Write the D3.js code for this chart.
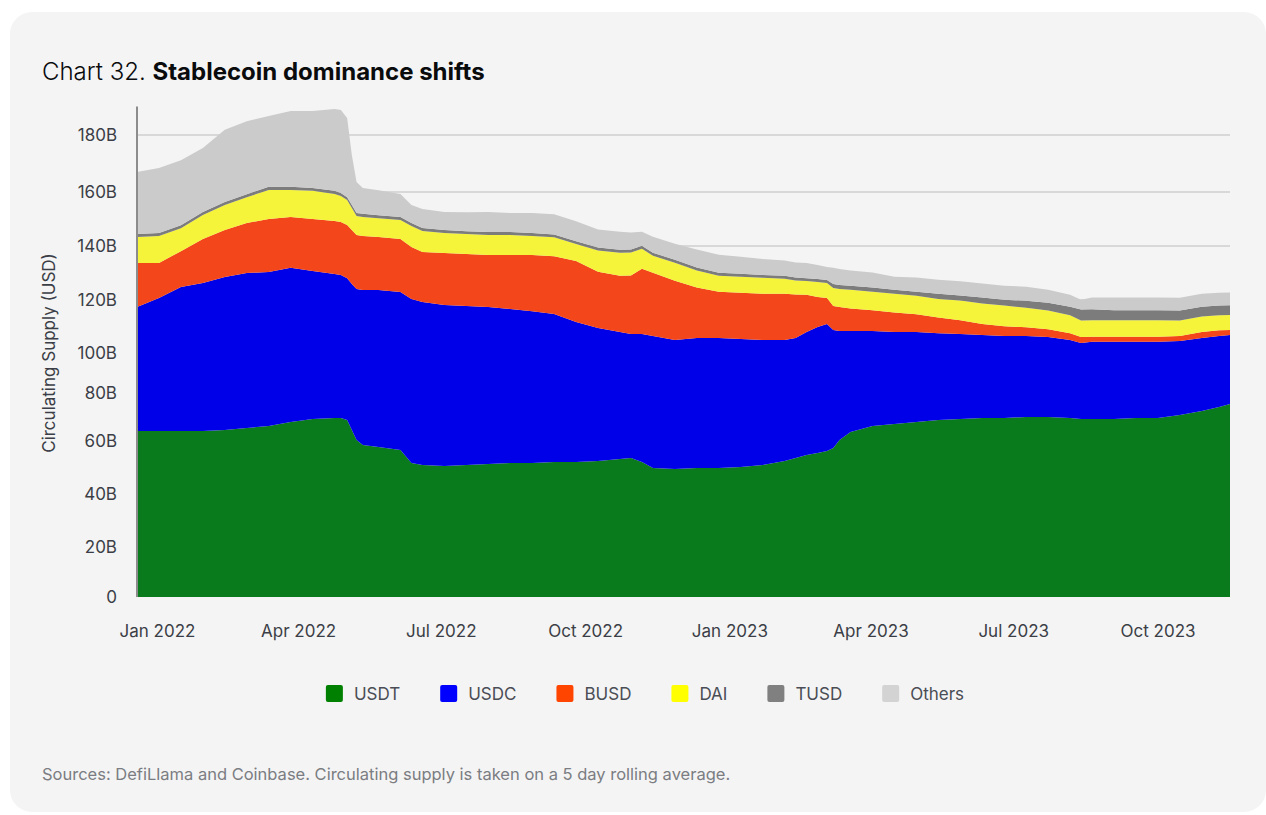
<!DOCTYPE html>
<html>
<head>
<meta charset="utf-8">
<script src="https://cdn.jsdelivr.net/npm/d3@7"></script>
<style>
  html, body { margin: 0; padding: 0; background: #ffffff; }
  svg { display: block; font-family: Inter, "Noto Sans", sans-serif; }
</style>
</head>
<body>
<script>
// ---------------- data ----------------
const dates = [
  "2022-01-01","2022-01-15","2022-01-29","2022-02-12","2022-02-26","2022-03-12","2022-03-26",
  "2022-04-09","2022-04-23","2022-05-07","2022-05-11","2022-05-15","2022-05-18","2022-05-21",
  "2022-05-25","2022-06-04","2022-06-18","2022-06-25","2022-07-02","2022-07-16","2022-07-30",
  "2022-08-13","2022-08-27","2022-09-10","2022-09-24","2022-10-08","2022-10-22","2022-11-05",
  "2022-11-12","2022-11-19","2022-11-26","2022-12-10","2022-12-24","2023-01-07","2023-01-21",
  "2023-02-04","2023-02-18","2023-02-25","2023-03-04","2023-03-11","2023-03-17","2023-03-21",
  "2023-03-25","2023-04-01","2023-04-15","2023-04-29","2023-05-13","2023-05-27","2023-06-10",
  "2023-06-24","2023-07-08","2023-07-22","2023-08-05","2023-08-19","2023-08-26","2023-09-02",
  "2023-09-16","2023-09-30","2023-10-14","2023-10-28","2023-11-11","2023-11-22","2023-11-29"
];
const usdt = [
  64.2,64.2,64.2,64.2,64.6,65.4,66.3,67.9,69.2,69.6,69.6,68.8,64.6,60.4,
  58.5,57.7,56.6,51.7,50.9,50.6,50.9,51.3,51.7,51.7,52.1,52.1,52.5,53.2,
  53.6,52.1,49.8,49.4,49.8,49.8,50.2,50.9,52.5,53.6,54.7,55.5,56.2,57.4,
  60.4,63.8,66.3,67.1,67.9,68.8,69.2,69.6,69.6,70.0,70.0,69.6,69.2,69.2,
  69.2,69.6,69.6,70.8,72.5,74.2,75.4
];
const usdc = [
  53.2,56.5,60.6,62.1,63.9,64.6,64.1,64.0,61.5,60.0,59.7,59.3,61.3,63.7,
  65.2,66.0,66.4,68.7,68.3,67.5,66.8,66.1,64.9,64.1,62.6,59.6,56.9,54.7,
  53.6,55.1,56.6,55.5,55.9,55.9,55.1,54.0,52.4,52.1,53.2,54.3,54.7,51.3,
  47.9,44.5,42.0,40.8,40.0,38.7,38.0,37.2,36.8,36.4,36.0,35.3,34.6,35.0,
  35.0,34.6,34.6,33.7,33.2,32.2,31.4
];
const busd = [
  16.3,13.0,13.3,16.3,17.4,18.5,19.6,18.8,19.3,19.7,19.6,19.7,20.0,20.0,
  20.0,19.6,19.6,19.2,18.6,19.3,19.3,19.3,20.1,20.9,21.5,22.7,21.1,21.1,
  21.9,24.4,23.7,22.2,18.9,17.4,17.4,17.4,17.4,16.3,14.0,11.3,9.8,9.0,
  9.1,8.5,7.8,7.4,6.7,5.9,5.2,4.1,3.7,3.3,3.0,2.6,2.2,1.9,
  1.9,1.9,1.9,1.9,2.2,2.2,1.9
];
const dai = [
  9.6,10.0,8.5,8.9,9.3,9.6,10.7,10.0,10.4,10.0,9.6,9.2,8.2,7.0,
  7.0,7.0,7.0,7.8,7.8,7.4,7.4,7.4,7.4,7.0,7.0,6.3,7.8,8.5,
  8.5,7.4,6.3,6.7,6.3,5.9,5.9,5.9,5.6,5.2,5.1,5.6,5.6,6.7,
  6.7,7.0,7.0,7.0,7.0,7.0,7.4,7.8,7.8,7.4,7.0,6.7,6.3,6.3,
  6.3,6.3,6.3,5.9,5.9,5.6,5.6
];
const tusd = [
  1.1,1.1,1.1,1.1,1.1,1.1,1.1,1.1,1.0,1.1,1.1,1.1,1.1,1.1,
  1.2,1.1,1.1,1.1,1.1,1.1,1.1,1.1,1.1,1.1,1.1,1.1,1.1,1.1,
  1.1,1.1,1.1,1.1,1.1,1.1,1.1,1.1,1.1,1.1,1.1,1.1,1.1,1.5,
  1.5,1.5,1.5,1.5,1.5,1.9,1.9,2.2,2.2,2.6,3.0,3.3,4.1,4.1,
  3.7,3.7,3.7,3.7,3.7,3.7,3.7
];
const others = [
  22.6,23.6,23.4,22.8,25.5,25.6,24.9,26.6,27.0,28.7,29.2,27.9,17.8,11.3,
  9.5,9.2,8.6,6.7,7.0,6.7,7.0,7.4,7.0,7.4,7.5,7.4,6.7,6.7,
  6.3,5.2,5.9,5.9,6.7,6.7,6.3,5.9,5.6,5.6,5.6,5.2,4.8,6.0,
  5.9,5.6,5.6,4.8,5.2,5.2,5.2,5.2,5.2,5.2,4.8,4.4,3.7,4.4,
  4.8,4.8,4.8,4.8,4.8,4.8,4.8
];
const seriesNames = ["USDT","USDC","BUSD","DAI","TUSD","Others"];
const areaColors   = ["#0a7b1d","#0000e8","#f4461b","#f5f43b","#7c7c7c","#cbcbcb"];
const legendColors = ["#008000","#0000ff","#ff4500","#ffff00","#808080","#d3d3d3"];
const yTicks = [0,20,40,60,80,100,120,140,160,180];
const yTickLabels = ["0","20B","40B","60B","80B","100B","120B","140B","160B","180B"];
const xTicks = ["2022-01-01","2022-04-01","2022-07-01","2022-10-01","2023-01-01","2023-04-01","2023-07-01","2023-10-01"];
const xTickLabels = ["Jan 2022","Apr 2022","Jul 2022","Oct 2022","Jan 2023","Apr 2023","Jul 2023","Oct 2023"];

// ---------------- layout ----------------
const W = 1266, H = 815;
const plot = { left: 137, right: 1230 };
const parse = d3.utcParse("%Y-%m-%d");

const rows = dates.map((d, i) => ({
  date: parse(d),
  USDT: usdt[i], USDC: usdc[i], BUSD: busd[i], DAI: dai[i], TUSD: tusd[i], Others: others[i]
}));

const svg = d3.select("body").append("svg").attr("width", W).attr("height", H);

// card background
svg.append("rect").attr("x", 10).attr("y", 12).attr("width", 1256).attr("height", 800)
  .attr("rx", 22).attr("fill", "#f4f4f4");

// title
const title = svg.append("text").attr("x", 42).attr("y", 80)
  .attr("font-size", 24).attr("fill", "#0a0b0d");
title.append("tspan").attr("font-weight", 300).text("Chart 32. ");
title.append("tspan").attr("font-weight", 700).text("Stablecoin dominance shifts");

// scales
const x = d3.scaleUtc()
  .domain([parse("2022-01-01"), parse("2023-11-29")])
  .range([plot.left, plot.right]);

// label positions of the reference axis are not evenly spaced; piecewise linear scale
const y = d3.scaleLinear()
  .domain([0, 20, 40, 60, 80, 100, 120, 140, 160, 180, 190])
  .range([597, 547, 494, 441, 393, 353, 300, 246, 192, 135, 106.5]);

// gridlines
svg.append("g").selectAll("line").data(yTicks.filter(v => v > 0)).join("line")
  .attr("x1", plot.left).attr("x2", plot.right)
  .attr("y1", d => y(d)).attr("y2", d => y(d))
  .attr("stroke", "#d8d8d8").attr("stroke-width", 2);

// stacked areas
const stack = d3.stack().keys(seriesNames);
const layers = stack(rows);
const area = d3.area()
  .x(d => x(d.data.date))
  .y0(d => y(d[0]))
  .y1(d => y(d[1]))
  .curve(d3.curveLinear);

svg.append("g").selectAll("path").data(layers).join("path")
  .attr("d", area)
  .attr("fill", (d, i) => areaColors[i]);

// y axis
const yAxis = d3.axisLeft(y).tickValues(yTicks).tickSize(0).tickPadding(20)
  .tickFormat((d, i) => yTickLabels[i]);
const gy = svg.append("g").attr("transform", `translate(${plot.left},0)`).call(yAxis);
gy.select(".domain").attr("stroke", "#8c8c8c").attr("stroke-width", 2)
  .attr("d", `M0,${y(0)}V${y(190)}`);
gy.selectAll("text").attr("font-size", 17).attr("fill", "#3b3e46")
  .attr("font-family", "Inter, sans-serif");

// x axis
const xAxis = d3.axisBottom(x).tickValues(xTicks.map(parse)).tickSize(0).tickPadding(28)
  .tickFormat((d, i) => xTickLabels[i]);
const gx = svg.append("g").attr("transform", `translate(0,${y(0)})`).call(xAxis);
gx.select(".domain").remove();
gx.selectAll("text").attr("font-size", 17).attr("fill", "#3b3e46")
  .attr("font-family", "Inter, sans-serif").attr("dx", 20);

// y axis title
svg.append("text")
  .attr("transform", "translate(55,353) rotate(-90)")
  .attr("text-anchor", "middle")
  .attr("font-size", 17).attr("fill", "#3b3e46")
  .text("Circulating Supply (USD)");

// legend
const legend = svg.append("g");
const items = legend.selectAll("g").data(seriesNames).join("g");
items.append("rect").attr("width", 17).attr("height", 17).attr("rx", 2)
  .attr("fill", (d, i) => legendColors[i]);
items.append("text").attr("x", 28).attr("y", 15).attr("font-size", 17)
  .attr("fill", "#4a4d55").text(d => d);
const widths = [];
items.each(function() { widths.push(this.getBBox().width); });
const gap = 40;
const total = d3.sum(widths) + gap * (widths.length - 1);
let start = 645 - total / 2;
items.attr("transform", (d, i) => {
  const t = `translate(${start},685)`;
  start += widths[i] + gap;
  return t;
});

// footer
svg.append("text").attr("x", 42).attr("y", 780)
  .attr("font-size", 16.5).attr("fill", "#7b7d82")
  .text("Sources: DefiLlama and Coinbase. Circulating supply is taken on a 5 day rolling average.");
</script>
</body>
</html>
